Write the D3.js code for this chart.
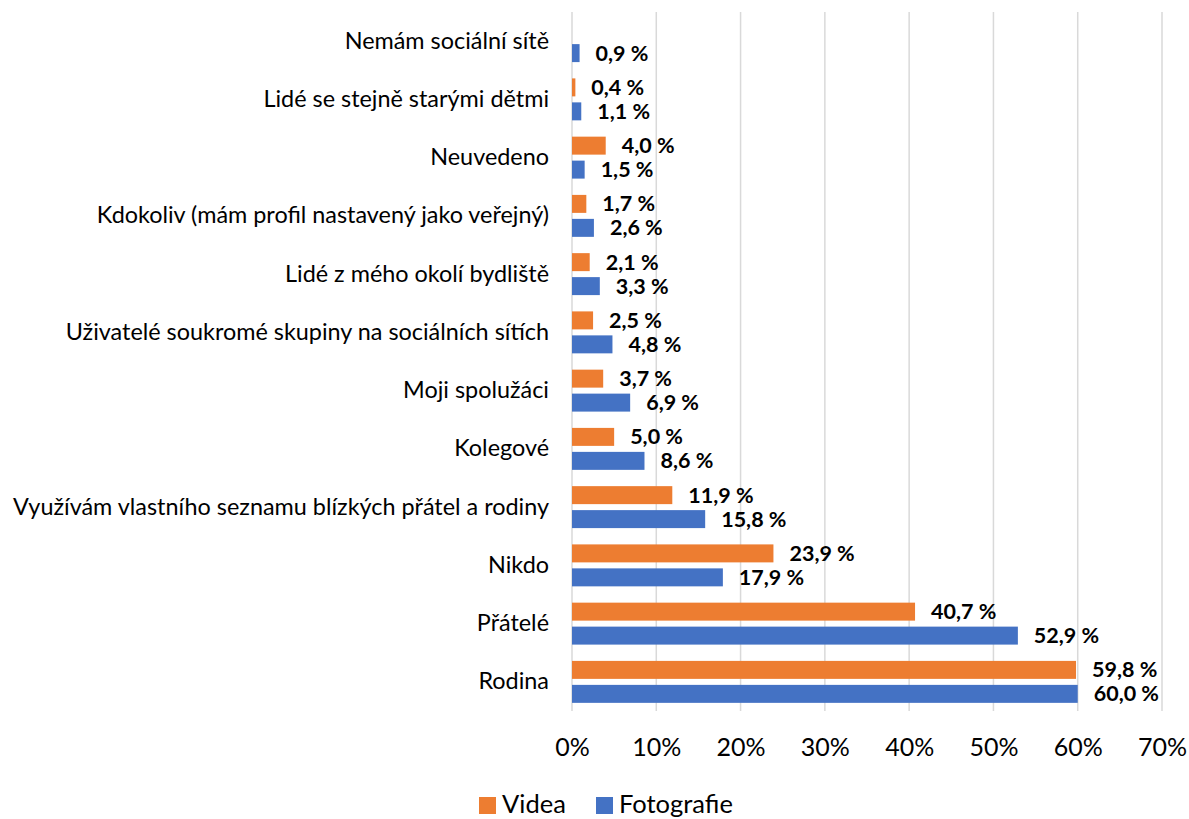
<!DOCTYPE html>
<html>
<head>
<meta charset="utf-8">
<script src="https://cdn.jsdelivr.net/npm/d3@7"></script>
<style>
  body { margin: 0; background: #fff; }
  svg { display: block; font-family: Lato, "Liberation Sans", sans-serif; }
</style>
</head>
<body>
<svg id="chart" width="1189" height="819"></svg>
<script>
// categories, top to bottom
const categories = [
  'Nemám sociální sítě',
  'Lidé se stejně starými dětmi',
  'Neuvedeno',
  'Kdokoliv (mám profil nastavený jako veřejný)',
  'Lidé z mého okolí bydliště',
  'Uživatelé soukromé skupiny na sociálních sítích',
  'Moji spolužáci',
  'Kolegové',
  'Využívám vlastního seznamu blízkých přátel a rodiny',
  'Nikdo',
  'Přátelé',
  'Rodina'
];
const series = ['Videa', 'Fotografie'];
const videa = [null, 0.4, 4.0, 1.7, 2.1, 2.5, 3.7, 5.0, 11.9, 23.9, 40.7, 59.8];
const fotografie = [0.9, 1.1, 1.5, 2.6, 3.3, 4.8, 6.9, 8.6, 15.8, 17.9, 52.9, 60.0];
const xTicks = [0, 10, 20, 30, 40, 50, 60, 70];
const colors = {Videa: '#ED7D31', Fotografie: '#4472C4'};

const rows = categories.map((c, i) => ({cat: c, Videa: videa[i], Fotografie: fotografie[i]}));

const svg = d3.select('#chart');

const x = d3.scaleLinear().domain([0, 70]).range([572, 1162]);
const y = d3.scaleBand().domain(categories).range([12, 711]);
const y1 = d3.scaleBand().domain(series).range([0, y.bandwidth()])
  .paddingInner(0.25).paddingOuter(0.34);

// gridlines
svg.append('g')
  .selectAll('line')
  .data(xTicks)
  .join('line')
    .attr('x1', d => x(d)).attr('x2', d => x(d))
    .attr('y1', 12).attr('y2', 711)
    .attr('stroke', '#d9d9d9')
    .attr('stroke-width', 1.5);

// x axis labels
const xAxis = d3.axisBottom(x).tickValues(xTicks).tickSize(0).tickPadding(0)
  .tickFormat(d => d + '%');
svg.append('g')
  .attr('transform', 'translate(0,747)')
  .call(xAxis)
  .call(g => g.select('.domain').remove())
  .call(g => g.selectAll('text')
    .attr('font-family', 'Lato, sans-serif')
    .attr('font-size', 25)
    .attr('fill', '#000')
    .attr('dy', '0.35em'));

// category labels
const yAxis = d3.axisLeft(y).tickSize(0).tickPadding(23);
svg.append('g')
  .attr('transform', `translate(${x(0)},0)`)
  .call(yAxis)
  .call(g => g.select('.domain').remove())
  .call(g => g.selectAll('text')
    .attr('font-family', 'Lato, sans-serif')
    .attr('font-size', 23.4)
    .attr('fill', '#000'));

// bars
const groups = svg.append('g')
  .selectAll('g')
  .data(rows)
  .join('g')
    .attr('transform', d => `translate(0,${y(d.cat)})`);

const cells = groups.selectAll('g')
  .data(d => series.map(s => ({s, v: d[s]})).filter(e => e.v != null))
  .join('g');

cells.append('rect')
  .attr('x', x(0))
  .attr('y', d => y1(d.s))
  .attr('width', d => x(d.v) - x(0))
  .attr('height', y1.bandwidth())
  .attr('fill', d => colors[d.s]);

cells.append('text')
  .attr('x', d => x(d.v) + 16)
  .attr('y', d => y1(d.s) + y1.bandwidth() / 2)
  .attr('dy', '0.35em')
  .attr('font-size', 21.5)
  .attr('font-weight', 'bold')
  .attr('fill', '#000')
  .text(d => d.v.toFixed(1).replace('.', ',') + ' %');

// legend
const legend = svg.append('g').attr('transform', 'translate(479,797)');
const legendX = {Videa: 0, Fotografie: 117};
const li = legend.selectAll('g')
  .data(series)
  .join('g')
    .attr('transform', d => `translate(${legendX[d]},0)`);
li.append('rect')
  .attr('width', 17).attr('height', 17)
  .attr('fill', d => colors[d]);
li.append('text')
  .attr('x', 23)
  .attr('y', 16)
  .attr('font-size', 25.5)
  .attr('fill', '#000')
  .text(d => d);
</script>
</body>
</html>
